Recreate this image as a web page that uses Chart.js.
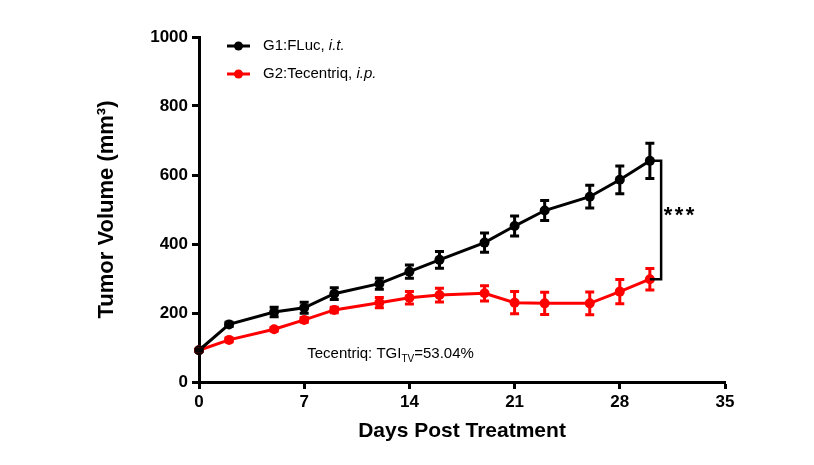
<!DOCTYPE html>
<html>
<head>
<meta charset="utf-8">
<script src="https://cdn.jsdelivr.net/npm/chart.js@4/dist/chart.umd.min.js"></script>
<style>
  html, body { margin: 0; padding: 0; background: #fff; }
</style>
</head>
<body>
<canvas id="graficoTumor" width="814" height="465"></canvas>
<script>
// dias pós tratamento
const dias = [0, 2, 5, 7, 9, 12, 14, 16, 19, 21, 23, 26, 28, 30];

// G1:FLuc, i.t. (média e erro)
const g1 = [92, 167, 203, 215, 256, 285, 320, 354, 404, 452, 497, 537, 586, 641];
const g1Erro = [3, 6, 14, 16, 17, 16, 19, 24, 28, 29, 29, 33, 40, 51];

// G2:Tecentriq, i.p.
const g2 = [92, 122, 153, 180, 209, 230, 244, 252, 257, 230, 228, 228, 262, 298];
const g2Erro = [3, 5, 5, 7, 8, 15, 18, 20, 22, 32, 32, 33, 35, 31];

const ticksX = [0, 7, 14, 21, 28, 35];
const ticksY = [0, 200, 400, 600, 800, 1000];

const FONTE = "'Liberation Sans', Arial, sans-serif";

function pontos(vals) {
    return dias.map((d, i) => ({ x: d, y: vals[i] }));
}

// barras de erro, colchete e textos
const extras = {
    id: 'extras',
    afterDatasetsDraw(chart) {
        const { ctx, scales: { x, y }, chartArea } = chart;
        ctx.save();
        ctx.lineWidth = 3;
        ctx.lineCap = 'butt';

        [[g2, g2Erro, '#ff0000'], [g1, g1Erro, '#000000']].forEach(([vals, errs, cor]) => {
            ctx.strokeStyle = cor;
            dias.forEach((d, i) => {
                const px = x.getPixelForValue(d);
                const topo = y.getPixelForValue(vals[i] + errs[i]);
                const base = y.getPixelForValue(vals[i] - errs[i]);
                ctx.beginPath();
                ctx.moveTo(px, topo); ctx.lineTo(px, base);
                ctx.moveTo(px - 4.5, topo); ctx.lineTo(px + 4.5, topo);
                ctx.moveTo(px - 4.5, base); ctx.lineTo(px + 4.5, base);
                ctx.stroke();
            });
        });

        // colchete de significância
        const ult = dias.length - 1;
        const xp = x.getPixelForValue(dias[ult]);
        const xb = x.getPixelForValue(dias[ult] + 0.75);
        const y1 = y.getPixelForValue(g1[ult]);
        const y2 = y.getPixelForValue(g2[ult]);
        ctx.strokeStyle = '#000';
        ctx.lineWidth = 2.5;
        ctx.beginPath();
        ctx.moveTo(xp, y1); ctx.lineTo(xb, y1); ctx.lineTo(xb, y2); ctx.lineTo(xp, y2);
        ctx.stroke();

        ctx.fillStyle = '#000';
        ctx.font = 'bold 22px ' + FONTE;
        ctx.textAlign = 'center';
        ctx.textBaseline = 'alphabetic';
        const ym = (y1 + y2) / 2 + 2;
        for (let k = 0; k < 3; k++) {
            ctx.fillText('*', xb + 7 + k * 11, ym);
        }

        // anotação TGI
        ctx.textAlign = 'left';
        let tx = x.getPixelForValue(7.2);
        const ty = y.getPixelForValue(70);
        ctx.font = '15px ' + FONTE;
        ctx.fillText('Tecentriq: TGI', tx, ty);
        tx += ctx.measureText('Tecentriq: TGI').width;
        ctx.font = '10px ' + FONTE;
        ctx.fillText('TV', tx, ty + 4);
        tx += ctx.measureText('TV').width;
        ctx.font = '15px ' + FONTE;
        ctx.fillText('=53.04%', tx, ty);

        // legenda
        const itens = [
            ['#000000', 'G1:FLuc, ', 'i.t.'],
            ['#ff0000', 'G2:Tecentriq, ', 'i.p.']
        ];
        itens.forEach(([cor, txt, ital], i) => {
            const ly = chartArea.top + 9 + i * 28;
            const lx = chartArea.left + 28;
            ctx.strokeStyle = cor;
            ctx.fillStyle = cor;
            ctx.lineWidth = 3;
            ctx.beginPath();
            ctx.moveTo(lx, ly); ctx.lineTo(lx + 23, ly);
            ctx.stroke();
            ctx.beginPath();
            ctx.arc(lx + 11.5, ly, 4.5, 0, Math.PI * 2);
            ctx.fill();
            ctx.fillStyle = '#000';
            ctx.textBaseline = 'middle';
            ctx.font = '15px ' + FONTE;
            ctx.fillText(txt, lx + 36, ly);
            const w = ctx.measureText(txt).width;
            ctx.font = 'italic 15px ' + FONTE;
            ctx.fillText(ital, lx + 36 + w, ly);
        });
        ctx.restore();
    }
};

function criarGrafico() {
    const canvas = document.getElementById('graficoTumor');
    const ctx = canvas.getContext('2d');

    new Chart(ctx, {
        type: 'line',
        data: {
            datasets: [
                {
                    label: 'G1:FLuc, i.t.',
                    data: pontos(g1),
                    borderColor: '#000000',
                    backgroundColor: '#000000',
                    borderWidth: 3,
                    pointRadius: 5,
                    pointBorderWidth: 0,
                    pointHoverRadius: 5,
                    tension: 0,
                    clip: false
                },
                {
                    label: 'G2:Tecentriq, i.p.',
                    data: pontos(g2),
                    borderColor: '#ff0000',
                    backgroundColor: '#ff0000',
                    borderWidth: 3,
                    pointRadius: 5,
                    pointBorderWidth: 0,
                    pointHoverRadius: 5,
                    tension: 0,
                    clip: false
                }
            ]
        },
        options: {
            responsive: false,
            animation: false,
            layout: {
                padding: { left: 94, right: 89, top: 37, bottom: 21 }
            },
            plugins: {
                legend: { display: false },
                tooltip: { enabled: false }
            },
            scales: {
                x: {
                    type: 'linear',
                    min: 0,
                    max: 35,
                    afterFit: (s) => { s.height = 62; },
                    afterBuildTicks: (s) => { s.ticks = ticksX.map(v => ({ value: v })); },
                    border: { display: true, color: '#000', width: 3 },
                    grid: {
                        drawOnChartArea: false,
                        drawTicks: true,
                        tickLength: 7,
                        tickWidth: 3,
                        tickColor: '#000'
                    },
                    ticks: {
                        color: '#000',
                        padding: 3,
                        maxRotation: 0,
                        callback: (v) => String(v),
                        font: { family: FONTE, size: 17, weight: 'bold' }
                    },
                    title: {
                        display: true,
                        text: 'Days Post Treatment',
                        color: '#000',
                        padding: 0,
                        font: { family: FONTE, size: 21, weight: 'bold' }
                    }
                },
                y: {
                    min: 0,
                    max: 1000,
                    afterFit: (s) => { s.width = 105; },
                    afterBuildTicks: (s) => { s.ticks = ticksY.map(v => ({ value: v })); },
                    border: { display: true, color: '#000', width: 3 },
                    grid: {
                        drawOnChartArea: false,
                        drawTicks: true,
                        tickLength: 7,
                        tickWidth: 3,
                        tickColor: '#000'
                    },
                    ticks: {
                        color: '#000',
                        padding: 4,
                        callback: (v) => String(v),
                        font: { family: FONTE, size: 17, weight: 'bold' }
                    },
                    title: {
                        display: true,
                        text: 'Tumor Volume (mm³)',
                        color: '#000',
                        padding: 0,
                        font: { family: FONTE, size: 22, weight: 'bold' }
                    }
                }
            }
        },
        plugins: [extras]
    });
}

window.addEventListener('load', criarGrafico);
</script>
</body>
</html>
